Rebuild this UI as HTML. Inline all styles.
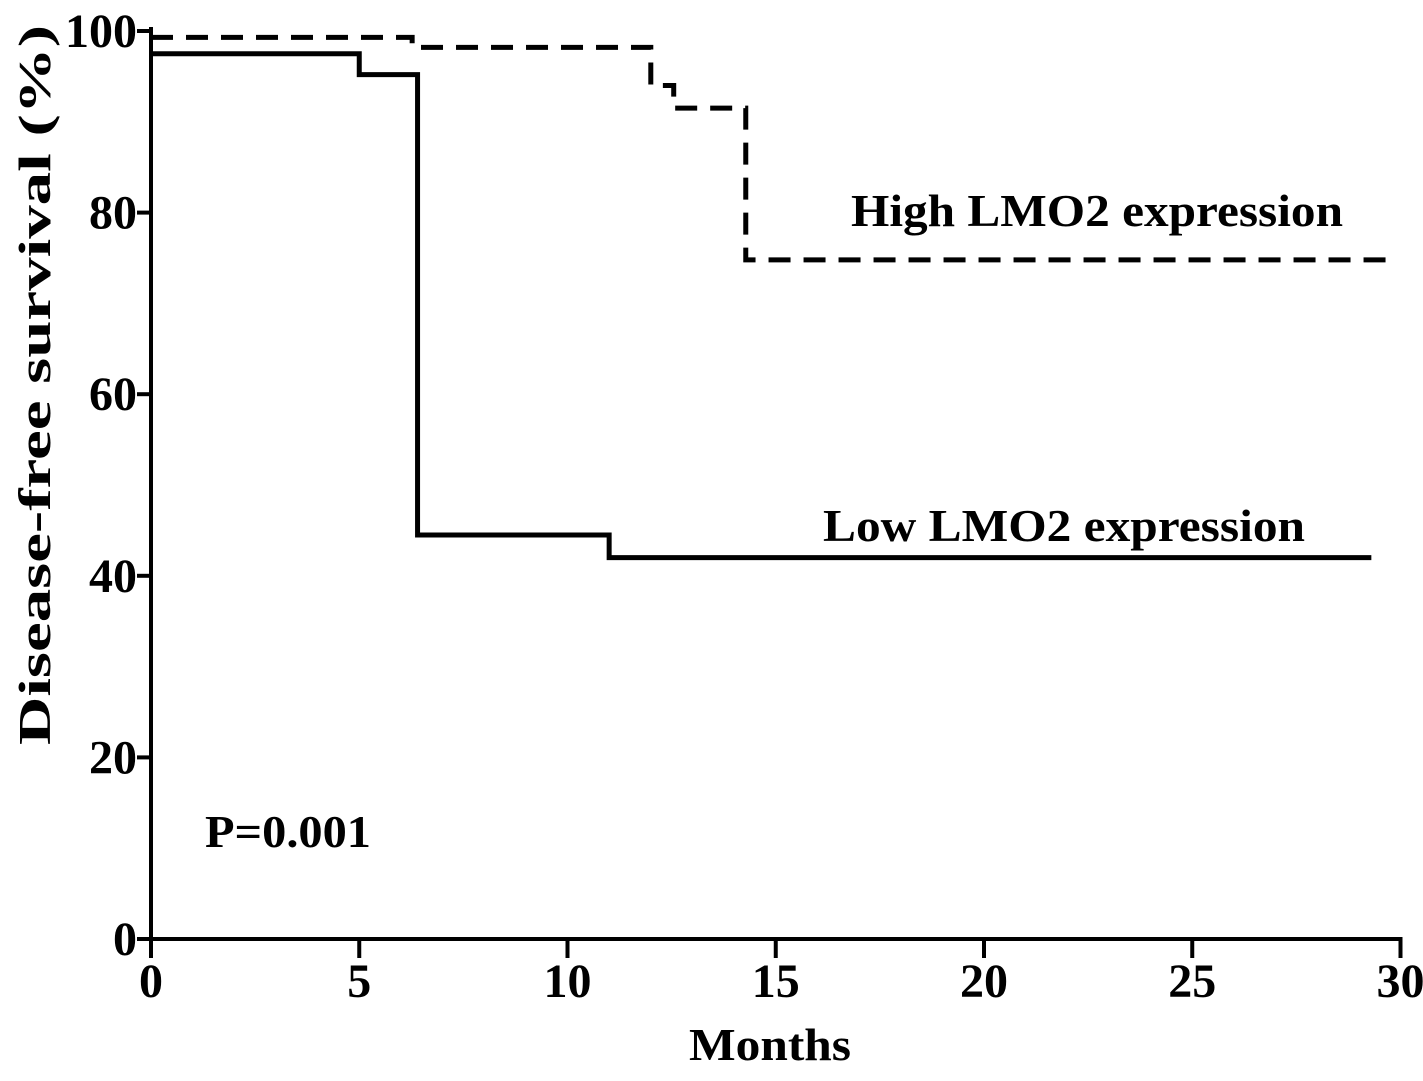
<!DOCTYPE html>
<html><head><meta charset="utf-8"><style>
html,body{margin:0;padding:0;background:#fff;}
svg{display:block;font-family:"Liberation Serif",serif;font-weight:bold;}
</style></head><body>
<svg id="chart" width="1423" height="1081" viewBox="0 0 1423 1081" xmlns="http://www.w3.org/2000/svg">
<g id="axes"></g><g id="series"></g>
<text x="0" y="0" font-size="46" text-anchor="middle" transform="translate(50,385) rotate(-90)" textLength="720" lengthAdjust="spacingAndGlyphs">Disease-free survival (%)</text>
<text x="770" y="1060" font-size="46" text-anchor="middle" textLength="162" lengthAdjust="spacingAndGlyphs">Months</text>
<text x="851" y="226" font-size="46" textLength="492" lengthAdjust="spacingAndGlyphs">High LMO2 expression</text>
<text x="823" y="541" font-size="46" textLength="482" lengthAdjust="spacingAndGlyphs">Low LMO2 expression</text>
<text x="205" y="847" font-size="46" textLength="166" lengthAdjust="spacingAndGlyphs">P=0.001</text>
</svg>
<script>
const xTicks=[0,5,10,15,20,25,30];
const yTicks=[0,20,40,60,80,100];
const lowTimes=[0,5,6.4,11,29.3];
const lowValues=[97.5,95.2,44.5,42,42];
const highTimes=[0,6.27,12.0,12.55,14.28,29.9];
const highValues=[99.3,98.2,94,91.5,74.8,74.8];
const NS='http://www.w3.org/2000/svg';
const X=v=>151+v*41.65;
const Y=v=>939-v*9.08;
function mk(tag,attrs,parent){const e=document.createElementNS(NS,tag);for(const k in attrs)e.setAttribute(k,attrs[k]);parent.appendChild(e);return e;}
const ax=document.getElementById('axes');
let l=mk('line',{x1:X(0),y1:Y(100)-4,x2:X(0),y2:Y(0)+2,stroke:'#000','stroke-width':4},ax);


l=mk('line',{x1:X(0)-2,y1:Y(0),x2:X(30)+2,y2:Y(0),stroke:'#000','stroke-width':4},ax);


xTicks.forEach(t=>{
 const tk=mk('line',{x1:X(t),y1:Y(0),x2:X(t),y2:Y(0)+19,stroke:'#000','stroke-width':4},ax);
 
 
 const tx=mk('text',{x:X(t),y:Y(0)+58,'font-size':48,'text-anchor':'middle'},ax);
 tx.textContent=t;
 
 
});
yTicks.forEach(t=>{
 const tk=mk('line',{x1:X(0)-14,y1:Y(t),x2:X(0),y2:Y(t),stroke:'#000','stroke-width':4},ax);
 
 
 const tx=mk('text',{x:X(0)-14,y:Y(t)+16,'font-size':48,'text-anchor':'end'},ax);
 tx.textContent=t;
 
 
});
function stepPath(ts,vs){let d='M'+X(ts[0])+','+Y(vs[0]);for(let i=1;i<ts.length;i++){d+=' H'+X(ts[i])+' V'+Y(vs[i]);}return d;}
const sg=document.getElementById('series');
const lp=mk('path',{d:stepPath(lowTimes,lowValues),fill:'none',stroke:'#000','stroke-width':5},sg);


const hp=mk('path',{d:stepPath(highTimes,highValues),fill:'none',stroke:'#000','stroke-width':5,'stroke-dasharray':'22 13'},sg);


</script>
</body></html>
